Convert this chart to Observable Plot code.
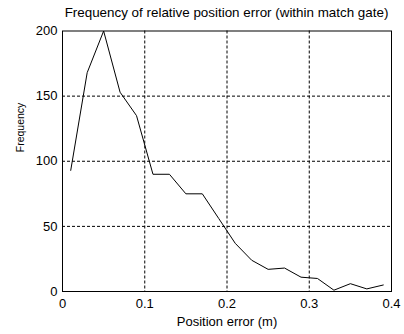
<!DOCTYPE html>
<html>
<head>
<meta charset="utf-8">
<script src="https://cdn.jsdelivr.net/npm/d3@7"></script>
<script src="https://cdn.jsdelivr.net/npm/@observablehq/plot@0.6"></script>
<style>
  html, body { margin: 0; padding: 0; background: #fff; }
  #title {
    width: 404px; box-sizing: border-box; height: 24px; padding: 2px 13px 0 62px;
    line-height: 22px; text-align: center; font-family: "Liberation Sans", Arial, sans-serif;
    font-size: 13.4px; color: #000; white-space: nowrap;
  }
  svg { display: block; }
</style>
</head>
<body>
<div id="title">Frequency of relative position error (within match gate)</div>
<div id="chart"></div>
<script>
const positionError = [0.01, 0.03, 0.05, 0.07, 0.09, 0.11, 0.13, 0.15, 0.17, 0.19,
                       0.21, 0.23, 0.25, 0.27, 0.29, 0.31, 0.33, 0.35, 0.37, 0.39];
const frequency = [93, 168, 200, 153, 135, 90, 90, 75, 75, 56,
                   37, 24, 17, 18, 11, 10, 1, 6, 2, 5];
const xTicks = [0, 0.1, 0.2, 0.3, 0.4];
const yTicks = [0, 50, 100, 150, 200];
const xGrid = [0.1, 0.2, 0.3];
const yGrid = [50, 100, 150];
const xLabel = "Position error (m)";
const yLabel = "Frequency";

const data = positionError.map((x, i) => ({x, y: frequency[i]}));

const chart = Plot.plot({
  width: 404,
  height: 310,
  marginLeft: 62,
  marginRight: 13,
  marginTop: 6.5,
  marginBottom: 43,
  style: {fontFamily: "'Liberation Sans', Arial, sans-serif", fontSize: "13px", color: "#000", background: "#fff"},
  x: {domain: [0, 0.4], label: null},
  y: {domain: [0, 200], label: null},
  marks: [
    Plot.ruleX(xGrid, {stroke: "#000", strokeWidth: 1, strokeDasharray: "3,2"}),
    Plot.ruleY(yGrid, {stroke: "#000", strokeWidth: 1, strokeDasharray: "3,2"}),
    Plot.line(data, {x: "x", y: "y", stroke: "#000", strokeWidth: 1}),
    Plot.frame({stroke: "#000", strokeWidth: 1}),
    Plot.axisX(xTicks, {tickSize: 0, tickPadding: 7, tickFormat: d => String(d), label: null}),
    Plot.axisY(yTicks, {tickSize: 0, tickPadding: 5, tickFormat: d => String(d), label: null}),
    Plot.text([xLabel], {frameAnchor: "bottom", text: d => d, dy: 30, lineAnchor: "middle", fill: "#000"}),
    Plot.text([yLabel], {frameAnchor: "left", text: d => d, rotate: -90, dx: -42, dy: -9, fontSize: 10.5, lineAnchor: "middle", fill: "#000"})
  ]
});
document.getElementById("chart").appendChild(chart);
</script>
</body>
</html>
